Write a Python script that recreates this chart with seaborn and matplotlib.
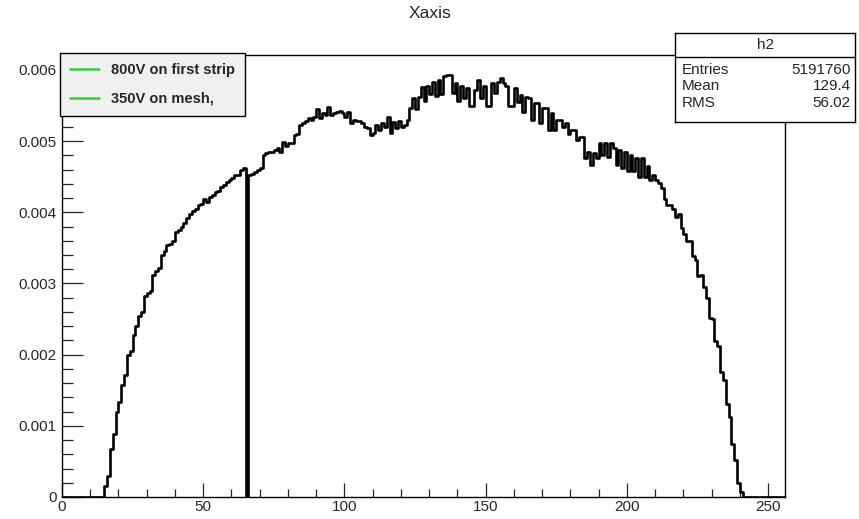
import numpy as np
import pandas as pd
import matplotlib
matplotlib.use("Agg")
import matplotlib.pyplot as plt
from matplotlib.ticker import MultipleLocator, FuncFormatter
from matplotlib.lines import Line2D
import seaborn as sns

# ================================
# Data, bin contents in units of 1e-3
# one bin per unit, x range 0..256
# ================================
n_bins = 256
x_range = (0, 256)
counts_e3 = [
    0, 0, 0, 0, 0, 0, 0, 0, 0, 0,                                   # 0-9
    0, 0, 0, 0, 0, 0.16, 0.30, 0.68, 0.89, 1.19,                    # 10-19
    1.33, 1.58, 1.72, 2.00, 2.05, 2.28, 2.40, 2.54, 2.60, 2.82,     # 20-29
    2.87, 2.90, 3.12, 3.17, 3.22, 3.40, 3.45, 3.54, 3.56, 3.59,     # 30-39
    3.73, 3.75, 3.80, 3.85, 3.92, 3.97, 4.02, 4.05, 4.10, 4.12,     # 40-49
    4.18, 4.15, 4.22, 4.25, 4.28, 4.30, 4.36, 4.38, 4.43, 4.46,     # 50-59
    4.48, 4.52, 4.52, 4.59, 4.62, 0.00, 4.52, 4.54, 4.56, 4.59,     # 60-69
    4.62, 4.80, 4.83, 4.85, 4.85, 4.87, 4.90, 4.85, 4.99, 4.93,     # 70-79
    4.97, 4.97, 5.08, 5.10, 5.22, 5.26, 5.28, 5.32, 5.29, 5.34,     # 80-89
    5.45, 5.32, 5.39, 5.36, 5.48, 5.37, 5.39, 5.41, 5.42, 5.39,     # 90-99
    5.34, 5.41, 5.26, 5.30, 5.28, 5.28, 5.25, 5.20, 5.18, 5.09,     # 100-109
    5.12, 5.22, 5.15, 5.25, 5.20, 5.34, 5.11, 5.27, 5.18, 5.28,     # 110-119
    5.20, 5.22, 5.29, 5.46, 5.60, 5.45, 5.62, 5.76, 5.57, 5.78,     # 120-129
    5.66, 5.83, 5.64, 5.86, 5.66, 5.91, 5.93, 5.93, 5.68, 5.81,     # 130-139
    5.57, 5.78, 5.60, 5.75, 5.49, 5.49, 5.72, 5.86, 5.60, 5.78,     # 140-149
    5.50, 5.49, 5.81, 5.67, 5.83, 5.88, 5.81, 5.78, 5.49, 5.49,     # 150-159
    5.74, 5.55, 5.65, 5.41, 5.62, 5.60, 5.30, 5.53, 5.53, 5.25,     # 160-169
    5.46, 5.46, 5.16, 5.40, 5.15, 5.30, 5.29, 5.20, 5.25, 5.10,     # 170-179
    5.16, 5.16, 5.02, 5.06, 5.06, 4.76, 4.85, 4.67, 4.83, 4.76,     # 180-189
    4.97, 4.80, 4.97, 4.78, 4.97, 4.91, 4.66, 4.88, 4.62, 4.85,     # 190-199
    4.58, 4.80, 4.58, 4.76, 4.50, 4.76, 4.50, 4.65, 4.45, 4.53,     # 200-209
    4.45, 4.41, 4.34, 4.18, 4.10, 4.10, 4.05, 3.94, 3.98, 3.78,     # 210-219
    3.70, 3.59, 3.60, 3.38, 3.33, 3.10, 3.12, 2.95, 2.80, 2.52,     # 220-229
    2.50, 2.19, 2.12, 1.75, 1.65, 1.31, 1.12, 0.75, 0.52, 0.19,     # 230-239
    0.07, 0, 0, 0, 0, 0, 0, 0, 0, 0,                                # 240-249
    0, 0, 0, 0, 0, 0,                                               # 250-255
]

x_ticks = [0, 50, 100, 150, 200, 250]
y_ticks = [0, 0.001, 0.002, 0.003, 0.004, 0.005, 0.006]

legend_labels = ["800V on first strip", "350V on mesh,"]
stats_title = "h2"
stats_names = ["Entries", "Mean", "RMS"]
stats_values = ["5191760", "129.4", "56.02"]

df = pd.DataFrame({
    "x": np.arange(n_bins) + 0.5,
    "w": np.array(counts_e3) * 1e-3,
})

# ================================
# Plot
# ================================
sns.set_style("white")
plt.rcParams["font.family"] = ["Liberation Sans", "DejaVu Sans"]

W, H = 859, 519
fig = plt.figure(figsize=(W / 100, H / 100), dpi=100)
ax = fig.add_axes([62 / W, 22 / H, 723 / W, 442 / H])

sns.histplot(data=df, x="x", weights="w", bins=n_bins, binrange=x_range,
             element="step", fill=False, color="black", linewidth=1.9, ax=ax)

ax.set_xlim(0, 256)
ax.set_ylim(0, 0.00621)
ax.set_xlabel("")
ax.set_ylabel("")

ax.set_xticks(x_ticks)
ax.set_yticks(y_ticks)
ax.xaxis.set_minor_locator(MultipleLocator(10))
ax.yaxis.set_minor_locator(MultipleLocator(0.0002))
ax.yaxis.set_major_formatter(FuncFormatter(lambda v, p: "0" if v == 0 else f"{v:.3f}"))
ax.tick_params(axis="x", which="major", direction="in", length=10, width=0.9,
               labelsize=11, pad=2, bottom=True, top=False)
ax.tick_params(axis="x", which="minor", direction="in", length=6, width=0.9,
               bottom=True, top=False)
ax.tick_params(axis="y", which="major", direction="in", length=15, width=0.9,
               labelsize=11, pad=4, left=True, right=False)
ax.tick_params(axis="y", which="minor", direction="in", length=8, width=0.9,
               left=True, right=False)
for s in ax.spines.values():
    s.set_color("black")
    s.set_linewidth(1.0)

fig.text(0.5, 1 - 13 / H, "Xaxis", ha="center", va="center", fontsize=12.5)

# legend (ROOT TLegend look)
handles = [Line2D([], [], color="#33cc33", linewidth=1.8) for _ in legend_labels]
leg = ax.legend(handles, legend_labels, loc="upper left",
                bbox_to_anchor=(60 / W, 1 - 53 / H), bbox_transform=fig.transFigure,
                borderaxespad=0, fancybox=False, framealpha=1, borderpad=0.7,
                handlelength=2.0, handletextpad=0.8, labelspacing=1.0,
                prop={"size": 10.5, "weight": "bold"})
leg.get_frame().set_facecolor("#f0f0f0")
leg.get_frame().set_edgecolor("black")
leg.get_frame().set_linewidth(1.0)

# stats box
sax = fig.add_axes([675 / W, (H - 122) / H, 180 / W, 89 / H])
sax.set_xlim(0, 1)
sax.set_ylim(0, 1)
sax.set_xticks([])
sax.set_yticks([])
sax.set_facecolor("white")
for s in sax.spines.values():
    s.set_color("black")
    s.set_linewidth(1.0)
sax.axhline(0.73, color="black", linewidth=1.0)
sax.text(0.5, 0.865, stats_title, ha="center", va="center", fontsize=11)
for name, val, yy in zip(stats_names, stats_values, [0.584, 0.404, 0.213]):
    sax.text(0.04, yy, name, ha="left", va="center", fontsize=11)
    sax.text(0.975, yy, val, ha="right", va="center", fontsize=11)

plt.savefig("out.png", dpi=100)
